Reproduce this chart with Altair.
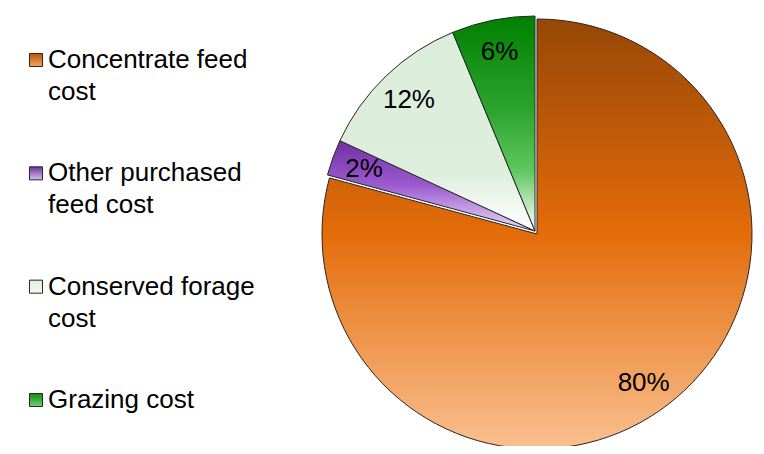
import altair as alt
import pandas as pd

categories = ["Concentrate feed cost", "Other purchased feed cost",
              "Conserved forage cost", "Grazing cost"]
legend_labels = ["Concentrate feed\ncost", "Other purchased\nfeed cost",
                 "Conserved forage\ncost", "Grazing cost"]
values = [79.2, 2.7, 11.85, 6.25]
pct_labels = ["80%", "2%", "12%", "6%"]
order = [0, 1, 2, 3]

df = pd.DataFrame({"category": categories, "legend": legend_labels,
                   "value": values, "label": pct_labels, "order": order})


def grad(stops):
    return alt.LinearGradient(
        gradient="linear", x1=0, y1=0, x2=0, y2=1,
        stops=[alt.GradientStop(offset=o, color=c) for o, c in stops])


gradients = [
    grad([(0, "#974706"), (0.5, "#E46C0A"), (1, "#FAC090")]),
    grad([(0, "#7030A0"), (0.5, "#9C5CD0"), (1, "#EADCF8")]),
    grad([(0, "#DCEDDC"), (0.7, "#DDEEDD"), (1, "#FFFFFF")]),
    grad([(0, "#008000"), (0.45, "#2FA52F"), (0.72, "#5FC75F"),
          (0.87, "#B8E4B8"), (1, "#FFFFFF")]),
]
legend_grads = [
    grad([(0, "#B85408"), (1, "#F4A460")]),
    grad([(0, "#7030A0"), (1, "#D8C0F0")]),
    grad([(0, "#DCEDDC"), (1, "#F4FAF4")]),
    grad([(0, "#108A10"), (1, "#70D070")]),
]

theta_scale = alt.Scale(domain=[0, 100], nice=False, zero=True)
y_scale = alt.Scale(type="point", domain=categories, range=[52, 392], padding=0)
FONT = "Liberation Sans, Arial, sans-serif"

base = alt.Chart(df).transform_stack(
    stack="value", groupby=[], as_=["v0", "v1"],
    sort=[alt.SortField("order", order="ascending")]
).transform_calculate(mid="(datum.v0 + datum.v1) / 2")

layers = []
for i, c in enumerate(categories):
    cx, cy = (529, 226) if i == 0 else (527, 223)
    sel = base.transform_filter(alt.datum.category == c)
    layers.append(
        sel.mark_arc(radius=215, fill=gradients[i], stroke="#262626",
                     strokeWidth=1).encode(
            theta=alt.Theta("v0:Q", scale=theta_scale),
            theta2="v1:Q",
            x=alt.value(cx), y=alt.value(cy))
    )
for i, c in enumerate(categories):
    cx, cy = (529, 226) if i == 0 else (527, 223)
    dx, dy = (-4, 4) if i == 0 else (0, 0)
    sel = base.transform_filter(alt.datum.category == c)
    layers.append(
        sel.mark_text(radius=182, fontSize=26, font=FONT, color="#000000",
                      align="center", baseline="middle", dx=dx, dy=dy).encode(
            theta=alt.Theta("mid:Q", scale=theta_scale),
            text="label:N",
            x=alt.value(cx), y=alt.value(cy))
    )
    layers.append(
        sel.mark_square(size=170, fill=legend_grads[i], stroke="#262626",
                        strokeWidth=1, opacity=1).encode(
            x=alt.value(28),
            y=alt.Y("category:N", scale=y_scale, axis=None))
    )
    layers.append(
        sel.mark_text(align="left", baseline="alphabetic", lineBreak="\n",
                      fontSize=26, lineHeight=32, font=FONT, color="#000000",
                      dy=8).encode(
            x=alt.value(40),
            y=alt.Y("category:N", scale=y_scale, axis=None),
            text="legend:N")
    )

chart = alt.layer(*layers).properties(
    width=748, height=438, padding=0, autosize=alt.AutoSizeParams(type="none")
).configure_view(stroke=None)

chart.save("out.html", embed_options={"renderer": "svg", "actions": False})
